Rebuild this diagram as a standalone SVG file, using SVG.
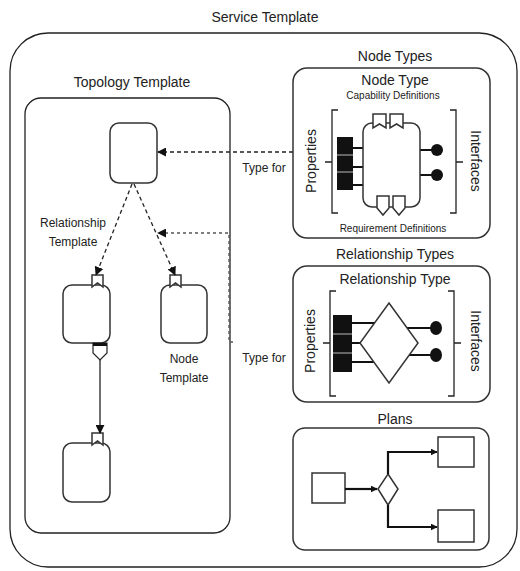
<svg xmlns="http://www.w3.org/2000/svg" width="520" height="571" viewBox="0 0 520 571">
<style>
text{font-family:"Liberation Sans",Arial,sans-serif;fill:#222}
.t{font-size:14px;text-anchor:middle}
.s{font-size:12px;text-anchor:middle}
.xs{font-size:10px;text-anchor:middle}
.box{fill:#fff;stroke:#333;stroke-width:1.5}
.thin{fill:none;stroke:#222;stroke-width:1.3}
.blk{fill:#111;stroke:none}
.ln{stroke:#111;stroke-width:2.2;fill:none}
.dash{fill:none;stroke:#222;stroke-width:1.3;stroke-dasharray:4,3}
.dot{fill:none;stroke:#555;stroke-width:1.3;stroke-dasharray:3,3}
</style>
<defs>
<marker id="ah" viewBox="0 0 10 10" refX="9" refY="5" markerWidth="7" markerHeight="7" orient="auto-start-reverse" markerUnits="userSpaceOnUse"><path d="M0,0 L10,5 L0,10 Z" fill="#111"/></marker>
<marker id="ah2" viewBox="0 0 10 10" refX="9" refY="5" markerWidth="9" markerHeight="9" orient="auto" markerUnits="userSpaceOnUse"><path d="M0,0 L10,5 L0,10 Z" fill="#111"/></marker>
</defs>
<rect width="520" height="571" fill="#fff"/>

<g id="service-template">
<rect x="10" y="33" width="507" height="534" rx="38" class="thin" stroke="#444"/>
<text x="265" y="22" class="t">Service Template</text>
</g>

<g id="topology-template">
<text x="132" y="87" class="t">Topology Template</text>
<rect x="25" y="98" width="205" height="435" rx="16" class="thin"/>
</g>

<g id="node-top">
<rect x="110" y="123" width="47" height="60" rx="9" class="box"/>
</g>

<g id="node-left">
<rect x="63" y="285" width="47" height="58" rx="9" class="box"/>
<path d="M92,275 H103 V287 L97.5,283 L92,287 Z" class="box" stroke-width="1.2"/>
<path d="M93,343 H107 V353 L100,360 L93,353 Z" fill="#fff" stroke="#222" stroke-width="1.2"/>
<rect x="93" y="343" width="14" height="3" class="blk"/>
</g>

<g id="node-right">
<rect x="161" y="285" width="46" height="58" rx="9" class="box"/>
<path d="M170,275 H181 V287 L175.5,283 L170,287 Z" class="box" stroke-width="1.2"/>
<text x="184" y="363" class="s">Node</text>
<text x="184" y="382" class="s">Template</text>
</g>

<g id="node-bottom">
<rect x="63" y="443" width="47" height="59" rx="9" class="box"/>
<path d="M92,433 H103 V445 L97.5,441 L92,445 Z" class="box" stroke-width="1.2"/>
</g>

<g id="node-types">
<text x="395" y="61" class="t">Node Types</text>
<rect x="293" y="68" width="197" height="170" rx="14" class="box"/>
<text x="395" y="85" class="t">Node Type</text>
<text x="393" y="99" class="xs">Capability Definitions</text>
<text x="393" y="232" class="xs">Requirement Definitions</text>
<path d="M338,110 H332 V213 H338 M332,162 H325" class="thin"/>
<path d="M450,110 H456 V213 H450 M456,162 H463" class="thin"/>
<text x="0" y="0" class="t" transform="translate(316,161) rotate(-90)" font-size="15">Properties</text>
<text x="0" y="0" class="t" transform="translate(471,161) rotate(90)" font-size="15">Interfaces</text>
<path d="M363,148 H353 M363,167 H353 M363,185 H353" class="ln"/>
<path d="M420,150 H434 M420,175 H434" class="ln"/>
<rect x="337" y="137" width="16" height="53" class="blk"/>
<path d="M337,155 H353 M337,172 H353" stroke="#bbb" stroke-width="1.2"/>
<circle cx="437" cy="150" r="6" class="blk"/>
<circle cx="437" cy="175" r="6" class="blk"/>
<rect x="363" y="123" width="57" height="84" rx="9" class="box"/>
<path d="M373,114 H386 V128 L379.5,124 L373,128 Z" class="box" stroke-width="1.2"/>
<path d="M390,114 H403 V128 L396.5,124 L390,128 Z" class="box" stroke-width="1.2"/>
<path d="M377,196 H389 V208 L383,215 L377,208 Z" class="box" stroke-width="1.2"/>
<path d="M393,196 H405 V208 L399,215 L393,208 Z" class="box" stroke-width="1.2"/>
</g>

<g id="relationship-types">
<text x="395" y="259" class="t">Relationship Types</text>
<rect x="293" y="266" width="197" height="136" rx="14" class="box"/>
<text x="395" y="284" class="t">Relationship Type</text>
<path d="M336,291 H330 V396 H336 M330,343 H323" class="thin"/>
<path d="M448,291 H454 V396 H448 M454,343 H461" class="thin"/>
<text x="0" y="0" class="t" transform="translate(315,341) rotate(-90)" font-size="15">Properties</text>
<text x="0" y="0" class="t" transform="translate(471,341) rotate(90)" font-size="15">Interfaces</text>
<path d="M352,323 H378 M352,343 H365 M352,362 H378" class="ln"/>
<path d="M407,328 H434 M407,355 H434" class="ln"/>
<rect x="333" y="315" width="19" height="57" class="blk"/>
<path d="M333,334 H352 M333,353 H352" stroke="#bbb" stroke-width="1.2"/>
<ellipse cx="436" cy="328" rx="6" ry="7" class="blk"/>
<ellipse cx="436" cy="355" rx="6" ry="7" class="blk"/>
<path d="M389,303 L418,343 L389,383 L360,343 Z" class="box" stroke-width="1.3"/>
</g>

<g id="plans">
<text x="395" y="424" class="t">Plans</text>
<rect x="293" y="428" width="196" height="122" rx="12" class="box"/>
<rect x="312" y="473" width="33" height="30" class="box" stroke-width="1.2"/>
<path d="M388,474 L398,489 L388,505 L378,489 Z" class="box" stroke-width="1.2"/>
<rect x="438" y="437" width="36" height="30" class="box" stroke-width="1.2"/>
<rect x="438" y="510" width="36" height="32" class="box" stroke-width="1.2"/>
<path d="M345,489 H377" class="ln" stroke-width="1.6" marker-end="url(#ah)"/>
<path d="M388,474 V452 H437" class="ln" stroke-width="1.6" marker-end="url(#ah)"/>
<path d="M388,505 V527 H437" class="ln" stroke-width="1.6" marker-end="url(#ah)"/>
</g>

<g id="connectors">
<path d="M132,184 L96,275" class="dash" stroke-width="1.5" marker-end="url(#ah2)"/>
<path d="M134,184 L175,275" class="dash" stroke-width="1.5" marker-end="url(#ah2)"/>
<path d="M100,360 V433" fill="none" stroke="#222" stroke-width="1.3" marker-end="url(#ah2)"/>
<path d="M293,152 H158" class="dash" marker-end="url(#ah2)"/>
<path d="M233,342 H229 V233 H158" class="dot" marker-end="url(#ah2)"/>
<text x="264" y="172" class="s">Type for</text>
<text x="264" y="362" class="s">Type for</text>
<text x="73" y="227" class="s">Relationship</text>
<text x="73" y="246" class="s">Template</text>
</g>
</svg>
